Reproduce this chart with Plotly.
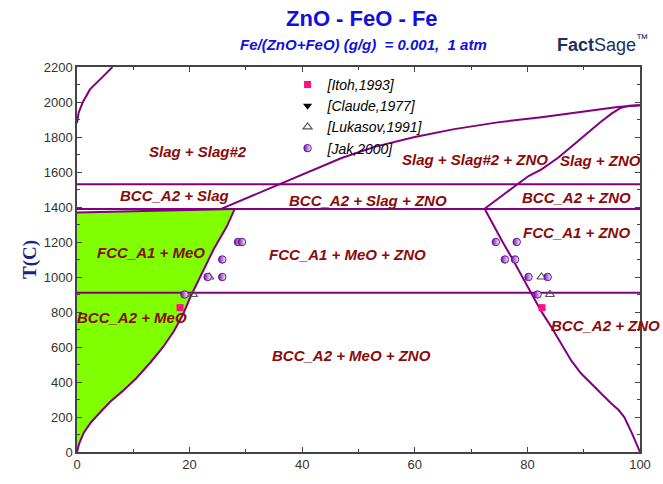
import plotly.graph_objects as go

# ---------------- data ----------------
# phase boundaries (x = mass % , T in C)
tl_x = [0, 0.3, 1.05, 2.3, 4.6, 6.3]
tl_T = [1880, 1940, 2000, 2072, 2145, 2200]

meo_x = [0, 0.4, 1.2, 2.5, 4.2, 6.0, 8.0, 10.5, 13.0, 15.3, 17.2, 18.8, 20.2, 22.3, 24.3, 26.6, 28.0]
meo_T = [0, 50, 110, 170, 230, 290, 345, 420, 510, 600, 690, 784, 890, 1030, 1160, 1288, 1388]

meo_top_x = [0, 28.0]
meo_top_T = [1368, 1388]

zno_x = [72.4, 74.1, 75.6, 77.4, 79.1, 80.9, 82.5, 84.3, 86.0, 87.8, 89.5, 91.3, 93.0, 94.8, 96.2, 97.2, 98.5, 99.4, 100]
zno_T = [1390, 1288, 1200, 1100, 1000, 900, 802, 711, 616, 522, 450, 392, 335, 280, 240, 200, 112, 40, 0]

liq_x = [72.4, 74.5, 76.5, 78.5, 80.2, 82.5, 85.4, 88.0, 90.5, 93.0, 95.0, 96.5, 98.0, 100]
liq_T = [1390, 1440, 1490, 1540, 1577, 1615, 1680, 1750, 1820, 1886, 1935, 1965, 1978, 1982]

s2_x = [25.5, 30, 34.8, 38, 42, 47, 53, 60, 67, 75, 82.5, 90, 96, 100]
s2_T = [1388, 1450, 1512, 1560, 1615, 1680, 1745, 1800, 1845, 1885, 1913, 1945, 1972, 1982]

iso_T = [1530, 1388, 910]   # horizontal invariant lines spanning 0..100
iso_x = [0, 100]

# experimental data
itoh_x = [18.3, 82.6]
itoh_T = [825, 825]
claude_x = [None]   # no point visible inside the diagram
claude_T = [None]
luk_x = [20.6, 23.5, 82.5, 84.0]
luk_T = [900, 1000, 1000, 900]
jak_x = [28.6, 29.3, 25.8, 25.8, 23.2, 19.1, 74.4, 78.1, 76.0, 77.8, 80.2, 83.6, 81.8]
jak_T = [1200, 1200, 1100, 1000, 1000, 900, 1200, 1200, 1100, 1100, 1000, 1000, 900]

# region labels
lab_text = ["Slag + Slag#2", "Slag + Slag#2 + ZNO", "BCC_A2 + Slag", "BCC_A2 + Slag + ZNO",
            "BCC_A2 + ZNO", "FCC_A1 + MeO", "FCC_A1 + MeO + ZNO", "FCC_A1 + ZNO",
            "BCC_A2 + MeO", "BCC_A2 + MeO + ZNO"]
lab_x = [21.5, 70.7, 17.3, 51.7, 88.8, 13.1, 48.0, 88.8, 9.8, 48.8]
lab_T = [1719, 1674, 1467, 1439, 1456, 1142, 1131, 1254, 767, 554]
# labels anchored at their left edge (run past the right border)
labL_text = ["Slag + ZNO", "BCC_A2 + ZNO"]
labL_x = [85.4, 83.9]
labL_T = [1663, 722]

LINE = "#800080"
LAB = "#8b0a0a"

fig = go.Figure()

# green MeO field
fig.add_trace(go.Scatter(
    x=[0] + meo_x + meo_top_x[::-1][1:],
    y=[0] + meo_T + meo_top_T[::-1][1:],
    fill="toself", fillcolor="#80ff00", mode="lines",
    line=dict(width=0), hoverinfo="skip", showlegend=False))

def add_line(xs, ys):
    fig.add_trace(go.Scatter(x=xs, y=ys, mode="lines",
                             line=dict(color=LINE, width=2),
                             hoverinfo="skip", showlegend=False))

add_line(tl_x, tl_T)
add_line(meo_x, meo_T)
add_line(meo_top_x, meo_top_T)
add_line(zno_x, zno_T)
add_line(liq_x, liq_T)
add_line(s2_x, s2_T)
for t in iso_T:
    add_line(iso_x, [t, t])

# experimental points
fig.add_trace(go.Scatter(x=itoh_x, y=itoh_T, mode="markers", name="<i>[Itoh,1993]</i>",
                         marker=dict(symbol="square", size=7, color="#ff1080")))
fig.add_trace(go.Scatter(x=claude_x, y=claude_T, mode="markers", name="<i>[Claude,1977]</i>",
                         marker=dict(symbol="triangle-down", size=8, color="black")))
fig.add_trace(go.Scatter(x=luk_x, y=luk_T, mode="markers", name="<i>[Lukasov,1991]</i>",
                         marker=dict(symbol="triangle-up-open", size=8, color="#555555",
                                     line=dict(width=1.2))))
fig.add_trace(go.Scatter(x=jak_x, y=jak_T, mode="markers", name="<i>[Jak,2000]</i>",
                         marker=dict(symbol="circle", size=7.5, color="#6a10a0",
                                     gradient=dict(type="horizontal", color="white"),
                                     line=dict(color="#6a10a0", width=1))))

for t, x, y in zip(lab_text, lab_x, lab_T):
    fig.add_annotation(x=x, y=y, text="<b><i>%s</i></b>" % t, showarrow=False,
                       font=dict(family="Liberation Sans", size=15, color=LAB))
for t, x, y in zip(labL_text, labL_x, labL_T):
    fig.add_annotation(x=x, y=y, text="<b><i>%s</i></b>" % t, showarrow=False, xanchor="left",
                       font=dict(family="Liberation Sans", size=15, color=LAB))

# titles
fig.add_annotation(xref="paper", yref="paper", x=(367 - 77) / 573, y=1 + (67 - 18) / 393,
                   text="<b>ZnO - FeO - Fe</b>", showarrow=False, xanchor="center",
                   yanchor="middle",
                   font=dict(family="Liberation Sans", size=22, color="#1010e0"))
fig.add_annotation(xref="paper", yref="paper", x=(369 - 77) / 573, y=1 + (67 - 44) / 393,
                   text="<b><i>Fe/(ZnO+FeO) (g/g)  = 0.001,  1 atm</i></b>", showarrow=False,
                   xanchor="center", yanchor="middle",
                   font=dict(family="Liberation Sans", size=15, color="#1010e0"))
fig.add_annotation(xref="paper", yref="paper", x=(612 - 77) / 573, y=1 + (67 - 43) / 393,
                   text="<b>Fact</b>Sage<sup>™</sup>", showarrow=False, xanchor="center",
                   yanchor="middle",
                   font=dict(family="Liberation Sans", size=18, color="#1c2f5e"))

fig.update_layout(
    width=663, height=484,
    margin=dict(l=77, r=13, t=67, b=24),
    paper_bgcolor="white", plot_bgcolor="white",
    showlegend=True,
    legend=dict(x=0.374, y=0.995, xanchor="left", yanchor="top",
                bgcolor="rgba(0,0,0,0)", tracegroupgap=0,
                font=dict(family="Liberation Sans", size=14, color="black")),
    xaxis=dict(range=[0, 100], dtick=20, ticks="inside", ticklen=5, showgrid=False,
               zeroline=False, showline=True, linecolor="#444", linewidth=1.5, mirror="ticks",
               tickcolor="#444",
               minor=dict(dtick=10, ticks="inside", ticklen=3, tickcolor="#444"),
               tickfont=dict(family="Liberation Sans", size=13, color="#333")),
    yaxis=dict(range=[0, 2200], dtick=200, ticks="inside", ticklen=5, showgrid=False,
               zeroline=False, showline=True, linecolor="#444", linewidth=1.5, mirror="ticks",
               tickcolor="#444",
               minor=dict(dtick=100, ticks="inside", ticklen=3, tickcolor="#444"),
               tickfont=dict(family="Liberation Sans", size=13, color="#333"),
               title=dict(text="<b>T(C)</b>", standoff=2,
                          font=dict(family="Liberation Serif", size=19, color="#1a237e"))),
)

fig.write_html("out.html")
